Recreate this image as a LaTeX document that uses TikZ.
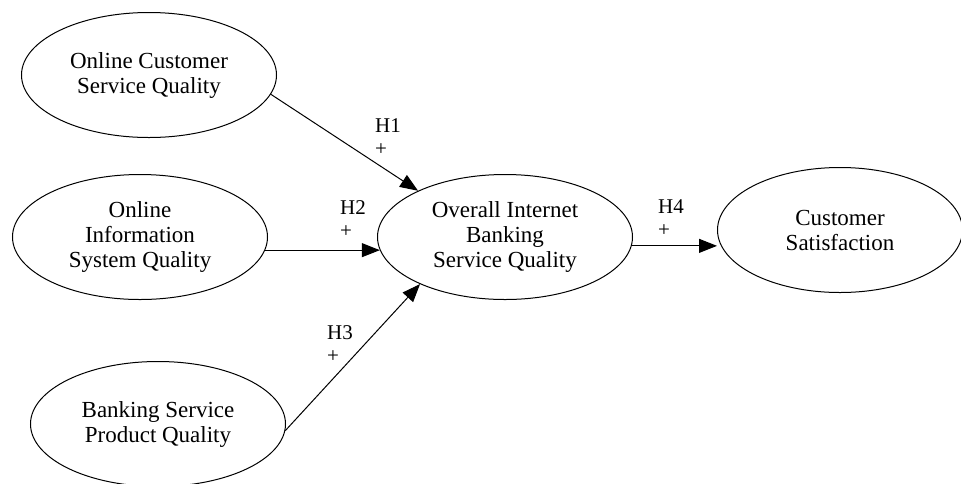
\documentclass[tikz,border=0pt]{standalone}
\usepackage{fontspec}
\setmainfont{Liberation Serif}
\usetikzlibrary{shapes.geometric,arrows.meta}

\tikzset{
  construct/.style={ellipse, draw=black, line width=1pt, minimum width=255pt,
    minimum height=125pt, inner sep=0pt, align=center,
    font=\fontsize{23}{25}\selectfont},
  hyp/.style={align=left, anchor=north west, inner sep=0pt,
    font=\fontsize{21}{23}\selectfont},
  link/.style={->, line width=1pt}
}

\begin{document}
\begin{tikzpicture}[x=1pt, y=-1pt, >={Triangle[length=18pt,width=14pt]}]
  \useasboundingbox (0,0) rectangle (961,483);

  % service quality dimensions
  \node[construct] (ocsq) at (149,75) {Online Customer\\Service Quality};
  \node[construct] (oisq) at (140,237) {Online\\Information\\System Quality};
  \node[construct] (bspq) at (158,424) {Banking Service\\Product Quality};

  % overall quality and outcome
  \node[construct] (oibsq) at (505,237) {Overall Internet\\Banking\\Service Quality};
  \node[construct, minimum width=245pt] (cs) at (840,230) {Customer\\Satisfaction};

  % hypothesised paths
  \draw[link] (ocsq.-9) -- (oibsq.152);
  \draw[link] (oisq.-6) -- (oibsq.186);
  \draw[link] (bspq.-3) -- (oibsq.209);
  \draw[link] (oibsq.-4) -- (oibsq.-4 -| cs.west);

  % path labels
  \node[hyp] (h1) at (375,118) {H1\\+};
  \node[hyp] (h2) at (340,200) {H2\\+};
  \node[hyp] (h3) at (327,325) {H3\\+};
  \node[hyp] (h4) at (658,199) {H4\\+};

\end{tikzpicture}
\end{document}
